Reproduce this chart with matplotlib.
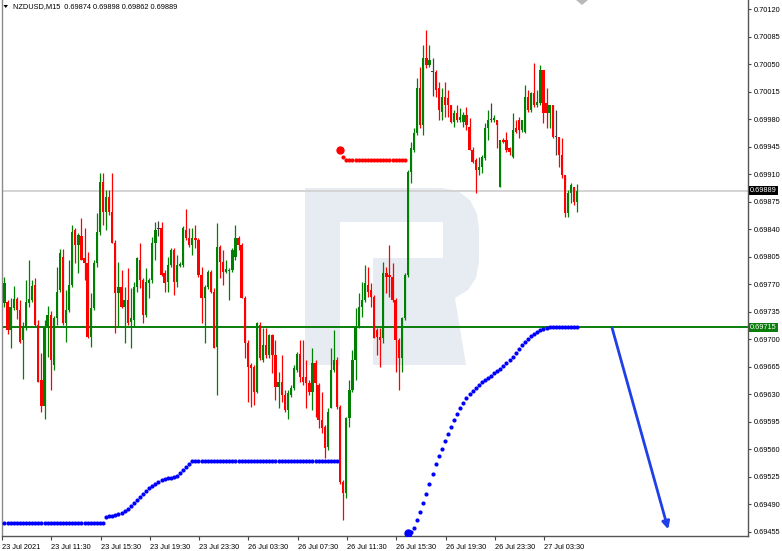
import matplotlib
matplotlib.use("Agg")
import matplotlib.pyplot as plt
from matplotlib.patches import Polygon, Rectangle
from matplotlib.transforms import blended_transform_factory
import numpy as np

plt.rcParams['font.family'] = ['Liberation Sans', 'DejaVu Sans']

symbol = "NZDUSD,M15"

# M15 bars, prices in points (1e-5)
opens = [
    69746, 69747, 69712, 69739, 69751, 69737, 69699, 69715, 69746, 69750,
    69769, 69718, 69648, 69615, 69715, 69731, 69667, 69727, 69762, 69804,
    69720, 69737, 69769, 69839, 69820, 69831, 69803, 69797, 69703, 69740,
    69797, 69836, 69900, 69862, 69881, 69862, 69822, 69759, 69766, 69741,
    69750, 69722, 69724, 69766, 69801, 69775, 69731, 69771, 69775, 69822,
    69840, 69841, 69784, 69773, 69794, 69813, 69773, 69793, 69794, 69839,
    69829, 69820, 69829, 69826, 69782, 69752, 69766, 69785, 69760, 69690,
    69817, 69798, 69785, 69787, 69788, 69804, 69829, 69820, 69752, 69695,
    69667, 69664, 69633, 69718, 69673, 69692, 69680, 69705, 69680, 69639,
    69645, 69629, 69610, 69629, 69638, 69661, 69681, 69652, 69652, 69644,
    69633, 69670, 69642, 69597, 69588, 69563, 69613, 69661, 69673, 69614,
    69518, 69504, 69600, 69635, 69673, 69715, 69741, 69750, 69769, 69762,
    69754, 69712, 69703, 69701, 69784, 69782, 69779, 69750, 69699, 69676,
    69727, 69782, 69913, 69941, 69962, 70019, 69972, 70058, 70049, 70040,
    70040, 70019, 69989, 70008, 70007, 69998, 69976, 69988, 69979, 69976,
    69985, 69970, 69941, 69928, 69915, 69919, 69930, 69969, 69979, 69979,
    69979, 69893, 69953, 69953, 69943, 69932, 69969, 69979, 69966, 69963,
    70008, 69991, 70013, 69998, 70000, 70042, 70000, 69988, 69998, 69957,
    69957, 69934, 69909, 69860, 69886, 69893, 69874,
]
highs = [
    69779, 69750, 69752, 69767, 69753, 69750, 69722, 69775, 69801, 69775,
    69778, 69724, 69682, 69724, 69742, 69736, 69729, 69792, 69815, 69815,
    69762, 69801, 69845, 69841, 69835, 69854, 69841, 69811, 69759, 69801,
    69860, 69911, 69911, 69890, 69890, 69911, 69826, 69798, 69788, 69766,
    69790, 69765, 69773, 69804, 69822, 69778, 69790, 69778, 69830, 69849,
    69850, 69849, 69788, 69804, 69816, 69816, 69807, 69798, 69844, 69865,
    69841, 69841, 69845, 69829, 69792, 69769, 69788, 69788, 69765, 69848,
    69820, 69813, 69801, 69790, 69816, 69845, 69831, 69822, 69755, 69699,
    69669, 69667, 69722, 69722, 69714, 69714, 69707, 69707, 69699, 69658,
    69680, 69635, 69635, 69641, 69667, 69683, 69699, 69699, 69673, 69648,
    69689, 69673, 69644, 69633, 69591, 69613, 69689, 69712, 69677, 69616,
    69521, 69601, 69648, 69686, 69740, 69759, 69773, 69794, 69792, 69771,
    69756, 69714, 69714, 69798, 69792, 69820, 69797, 69752, 69701, 69728,
    69784, 69915, 69951, 69969, 70032, 70046, 70074, 70093, 70074, 70058,
    70042, 70027, 70019, 70027, 70017, 69998, 69991, 69998, 69994, 69989,
    69995, 69981, 69944, 69930, 69932, 69934, 69975, 69991, 70000, 69985,
    69979, 69953, 69956, 69963, 69944, 69988, 69979, 69983, 69979, 70023,
    70017, 70014, 70051, 70017, 70049, 70042, 70019, 69998, 69998, 69991,
    69957, 69956, 69909, 69890, 69899, 69893, 69898,
]
lows = [
    69741, 69707, 69689, 69737, 69725, 69695, 69649, 69712, 69741, 69747,
    69717, 69645, 69607, 69599, 69677, 69635, 69661, 69718, 69760, 69718,
    69696, 69734, 69766, 69797, 69784, 69801, 69775, 69701, 69690, 69737,
    69792, 69832, 69845, 69839, 69858, 69822, 69708, 69715, 69739, 69695,
    69718, 69689, 69715, 69760, 69765, 69720, 69728, 69752, 69771, 69801,
    69831, 69780, 69760, 69760, 69792, 69756, 69766, 69792, 69792, 69826,
    69817, 69807, 69816, 69779, 69720, 69695, 69764, 69759, 69689, 69629,
    69778, 69769, 69784, 69750, 69785, 69801, 69813, 69752, 69676, 69620,
    69614, 69616, 69631, 69673, 69671, 69676, 69676, 69657, 69623, 69612,
    69620, 69607, 69599, 69626, 69635, 69658, 69645, 69642, 69612, 69629,
    69610, 69601, 69587, 69580, 69549, 69559, 69612, 69658, 69611, 69516,
    69470, 69498, 69588, 69633, 69648, 69714, 69728, 69747, 69754, 69741,
    69701, 69680, 69664, 69695, 69759, 69754, 69747, 69658, 69635, 69658,
    69724, 69779, 69899, 69938, 69960, 69969, 69960, 70045, 70046, 70009,
    70008, 69979, 69979, 69983, 69983, 69975, 69970, 69976, 69976, 69970,
    69966, 69941, 69924, 69886, 69909, 69911, 69928, 69953, 69976, 69976,
    69943, 69893, 69949, 69938, 69934, 69930, 69962, 69956, 69963, 69962,
    69989, 69989, 69995, 69995, 69998, 69975, 69969, 69969, 69956, 69934,
    69919, 69905, 69855, 69855, 69873, 69871, 69862,
]
closes = [
    69771, 69711, 69741, 69751, 69737, 69696, 69715, 69747, 69751, 69767,
    69718, 69645, 69615, 69715, 69731, 69673, 69727, 69760, 69809, 69720,
    69737, 69769, 69836, 69820, 69832, 69801, 69797, 69703, 69740, 69797,
    69836, 69900, 69862, 69881, 69862, 69822, 69759, 69766, 69741, 69750,
    69720, 69727, 69766, 69803, 69775, 69731, 69773, 69775, 69822, 69839,
    69840, 69782, 69771, 69794, 69813, 69773, 69794, 69796, 69841, 69829,
    69820, 69829, 69826, 69782, 69752, 69766, 69785, 69760, 69689, 69817,
    69798, 69785, 69789, 69788, 69813, 69829, 69820, 69752, 69695, 69664,
    69663, 69633, 69720, 69676, 69692, 69680, 69705, 69680, 69639, 69645,
    69629, 69610, 69631, 69638, 69663, 69681, 69652, 69645, 69644, 69633,
    69670, 69644, 69597, 69587, 69561, 69607, 69661, 69673, 69614, 69518,
    69504, 69600, 69635, 69673, 69715, 69741, 69750, 69771, 69760, 69754,
    69701, 69703, 69699, 69784, 69779, 69779, 69750, 69699, 69676, 69727,
    69782, 69913, 69943, 69962, 70019, 69972, 70058, 70049, 70055, 70040,
    70017, 69991, 70008, 69998, 69998, 69976, 69988, 69979, 69983, 69985,
    69972, 69941, 69925, 69915, 69919, 69932, 69969, 69979, 69979, 69981,
    69972, 69953, 69951, 69941, 69938, 69966, 69963, 69966, 69979, 70008,
    69991, 70013, 69998, 70002, 70042, 69988, 69988, 69998, 69957, 69957,
    69934, 69909, 69860, 69886, 69896, 69874, 69889,
]

# trailing indicator dots (points), blue below / red above price
blue_dots_a = [
    69466, 69466, 69466, 69466, 69466, 69466, 69466, 69466, 69466, 69466,
    69466, 69466, 69466, 69466, 69466, 69466, 69466, 69466, 69466, 69466,
    69466, 69466, 69466, 69466, 69466, 69466, 69466, 69466, 69466, 69466,
    69466, 69466, 69466, 69474, 69475, 69475, 69476, 69477, 69479, 69481,
    69484, 69488, 69491, 69495, 69499, 69503, 69507, 69511, 69513, 69516,
    69518, 69521, 69522, 69523, 69523, 69525, 69526, 69530, 69533, 69537,
    69541, 69545, 69545, 69545, 69545, 69545, 69545, 69545, 69545, 69545,
    69545, 69545, 69545, 69545, 69545, 69545, 69545, 69545, 69545, 69545,
    69545, 69545, 69545, 69545, 69545, 69545, 69545, 69545, 69545, 69545,
    69545, 69545, 69545, 69545, 69545, 69545, 69545, 69545, 69545, 69545,
    69545, 69545, 69545, 69545, 69545, 69545, 69545, 69545, 69545,
]
red_dots = [
    69941, 69932, 69928, 69928, 69928, 69928, 69928, 69928, 69928, 69928,
    69928, 69928, 69928, 69928, 69928, 69928, 69928, 69928, 69928, 69928,
    69928, 69928,
]
blue_dots_b = [
    69453, 69455, 69460, 69470, 69480, 69491, 69503, 69516, 69528, 69541,
    69551, 69560, 69570, 69579, 69588, 69597, 69605, 69612, 69619, 69625,
    69630, 69634, 69638, 69642, 69645, 69648, 69650, 69653, 69657, 69659,
    69662, 69666, 69670, 69673, 69677, 69682, 69687, 69692, 69696, 69700,
    69704, 69706, 69709, 69712, 69713, 69714, 69715, 69715, 69715, 69715,
    69715, 69715, 69715, 69715, 69715, 69715,
]

time_labels = ["23 Jul 2021", "23 Jul 11:30", "23 Jul 15:30", "23 Jul 19:30",
               "23 Jul 23:30", "26 Jul 03:30", "26 Jul 07:30", "26 Jul 11:30",
               "26 Jul 15:30", "26 Jul 19:30", "26 Jul 23:30", "27 Jul 03:30"]
label_bars = [0, 16, 32, 48, 64, 80, 96, 112, 128, 144, 160, 176]

support_level = 0.69715
arrow_from = (197.3, 0.69714)
arrow_to = (215.5, 0.69458)

W, H = 782, 551
fig = plt.figure(figsize=(W / 100, H / 100), dpi=100)

# background layer in pixel units (watermark, header)
bg = fig.add_axes([0, 0, 1, 1])
bg.set_xlim(0, W)
bg.set_ylim(H, 0)
bg.axis('off')
bg.set_zorder(0)

wm = '#e7ebf2'
outer = Polygon([(305, 188), (442, 188), (458, 191), (470, 200), (477, 214),
                 (479, 230), (479, 262), (476, 278), (468, 290), (455, 298),
                 (466, 365), (305, 365)], closed=True, fc=wm, ec='none')
bg.add_patch(outer)
bg.add_patch(Rectangle((340, 222), 103, 36, fc='white', ec='none'))
bg.add_patch(Rectangle((340, 258), 33, 107, fc='white', ec='none'))

bg.add_patch(Polygon([(3.5, 5), (8, 5), (5.75, 8)], closed=True, fc='black', ec='none'))
bg.text(13, 6.5, f"{symbol}  {opens[-1] / 1e5:.5f} {highs[-1] / 1e5:.5f} "
        f"{lows[-1] / 1e5:.5f} {closes[-1] / 1e5:.5f}",
        fontsize=5.3, va='center', ha='left', color='black')
bg.add_patch(Polygon([(576, 0), (588, 0), (582, 5)], closed=True, fc='#b8b8b8', ec='none'))

ax = fig.add_axes([2 / W, 15 / H, 746 / W, 536 / H])
ax.set_zorder(1)
ax.patch.set_alpha(0)

o = np.array(opens) / 1e5
h = np.array(highs) / 1e5
l = np.array(lows) / 1e5
c = np.array(closes) / 1e5
x = np.arange(len(o))

col = np.where(c > o, '#008000', np.where(c < o, '#ff0000', '#404040'))
ax.vlines(x, l, h, colors=col, lw=0.9, zorder=3)
body = np.maximum(np.abs(c - o), 0.000012)
ax.bar(x, body, bottom=np.minimum(o, c), width=0.74, color=col, lw=0, zorder=4)

# horizontal levels
ax.axhline(c[-1], color='#d4d4d4', lw=1.4, zorder=1)
ax.axhline(support_level, color='#0a7d0a', lw=1.4, zorder=2)

# dots
xa = np.arange(len(blue_dots_a))
xr = np.arange(len(red_dots)) + len(blue_dots_a)
xb = np.arange(len(blue_dots_b)) + len(blue_dots_a) + len(red_dots)
ax.plot(xa, np.array(blue_dots_a) / 1e5, 'o', ms=3.0, mew=0, color='#0000ff', zorder=5)
ax.plot(xb, np.array(blue_dots_b) / 1e5, 'o', ms=3.0, mew=0, color='#0000ff', zorder=5)
ax.plot(xb[:1], np.array(blue_dots_b[:1]) / 1e5, 'o', ms=6, mew=0, color='#0000ff', zorder=5)
ax.plot(xr, np.array(red_dots) / 1e5, 'o', ms=3.0, mew=0, color='#ff0000', zorder=5)
ax.plot(xr[:1], np.array(red_dots[:1]) / 1e5, 'o', ms=6, mew=0, color='#ff0000', zorder=5)

ax.annotate('', xy=arrow_to, xytext=arrow_from,
            arrowprops=dict(arrowstyle='-|>', color='#1f3fe8', lw=2.0,
                            mutation_scale=11, shrinkA=0, shrinkB=0),
            zorder=6)

px_per_bar = 3.086
ax.set_xlim(-1 / px_per_bar, 745 / px_per_bar)
ax.set_ylim(0.694495, 0.701315)

# axes styling
ax.spines['top'].set_visible(False)
ax.spines['left'].set_color('#8a8a8a')
ax.spines['bottom'].set_color('#555555')
ax.spines['right'].set_color('#555555')
for s in ['left', 'bottom', 'right']:
    ax.spines[s].set_linewidth(1.0)

ax.yaxis.tick_right()
yt = np.arange(69455, 70121, 35) / 1e5
ax.set_yticks(yt)
ax.set_yticklabels([f"{v:.5f}" for v in yt])
ax.tick_params(axis='y', direction='out', length=2.5, width=0.8, color='#444444',
               labelsize=5.3, pad=1.5, labelcolor='black')

ax.set_xticks([b - 0.8 for b in label_bars])
ax.set_xticklabels(time_labels)
ax.tick_params(axis='x', direction='out', length=3, width=0.8, color='#444444',
               labelsize=5.3, pad=2.5, labelcolor='black')
for t in ax.get_xticklabels():
    t.set_horizontalalignment('left')

# price tags on the right scale
tr = blended_transform_factory(ax.transAxes, ax.transData)
ax.text(1.003, c[-1], f"{c[-1]:.5f}", transform=tr, fontsize=5.3, color='white',
        va='center', ha='left', zorder=10, clip_on=False,
        bbox=dict(boxstyle='square,pad=0.15', fc='black', ec='none'))
ax.text(1.003, support_level, f"{support_level:.5f}", transform=tr, fontsize=5.3,
        color='white', va='center', ha='left', zorder=10, clip_on=False,
        bbox=dict(boxstyle='square,pad=0.15', fc='#0a7d0a', ec='none'))

fig.savefig('out.png', dpi=100, facecolor='white')
